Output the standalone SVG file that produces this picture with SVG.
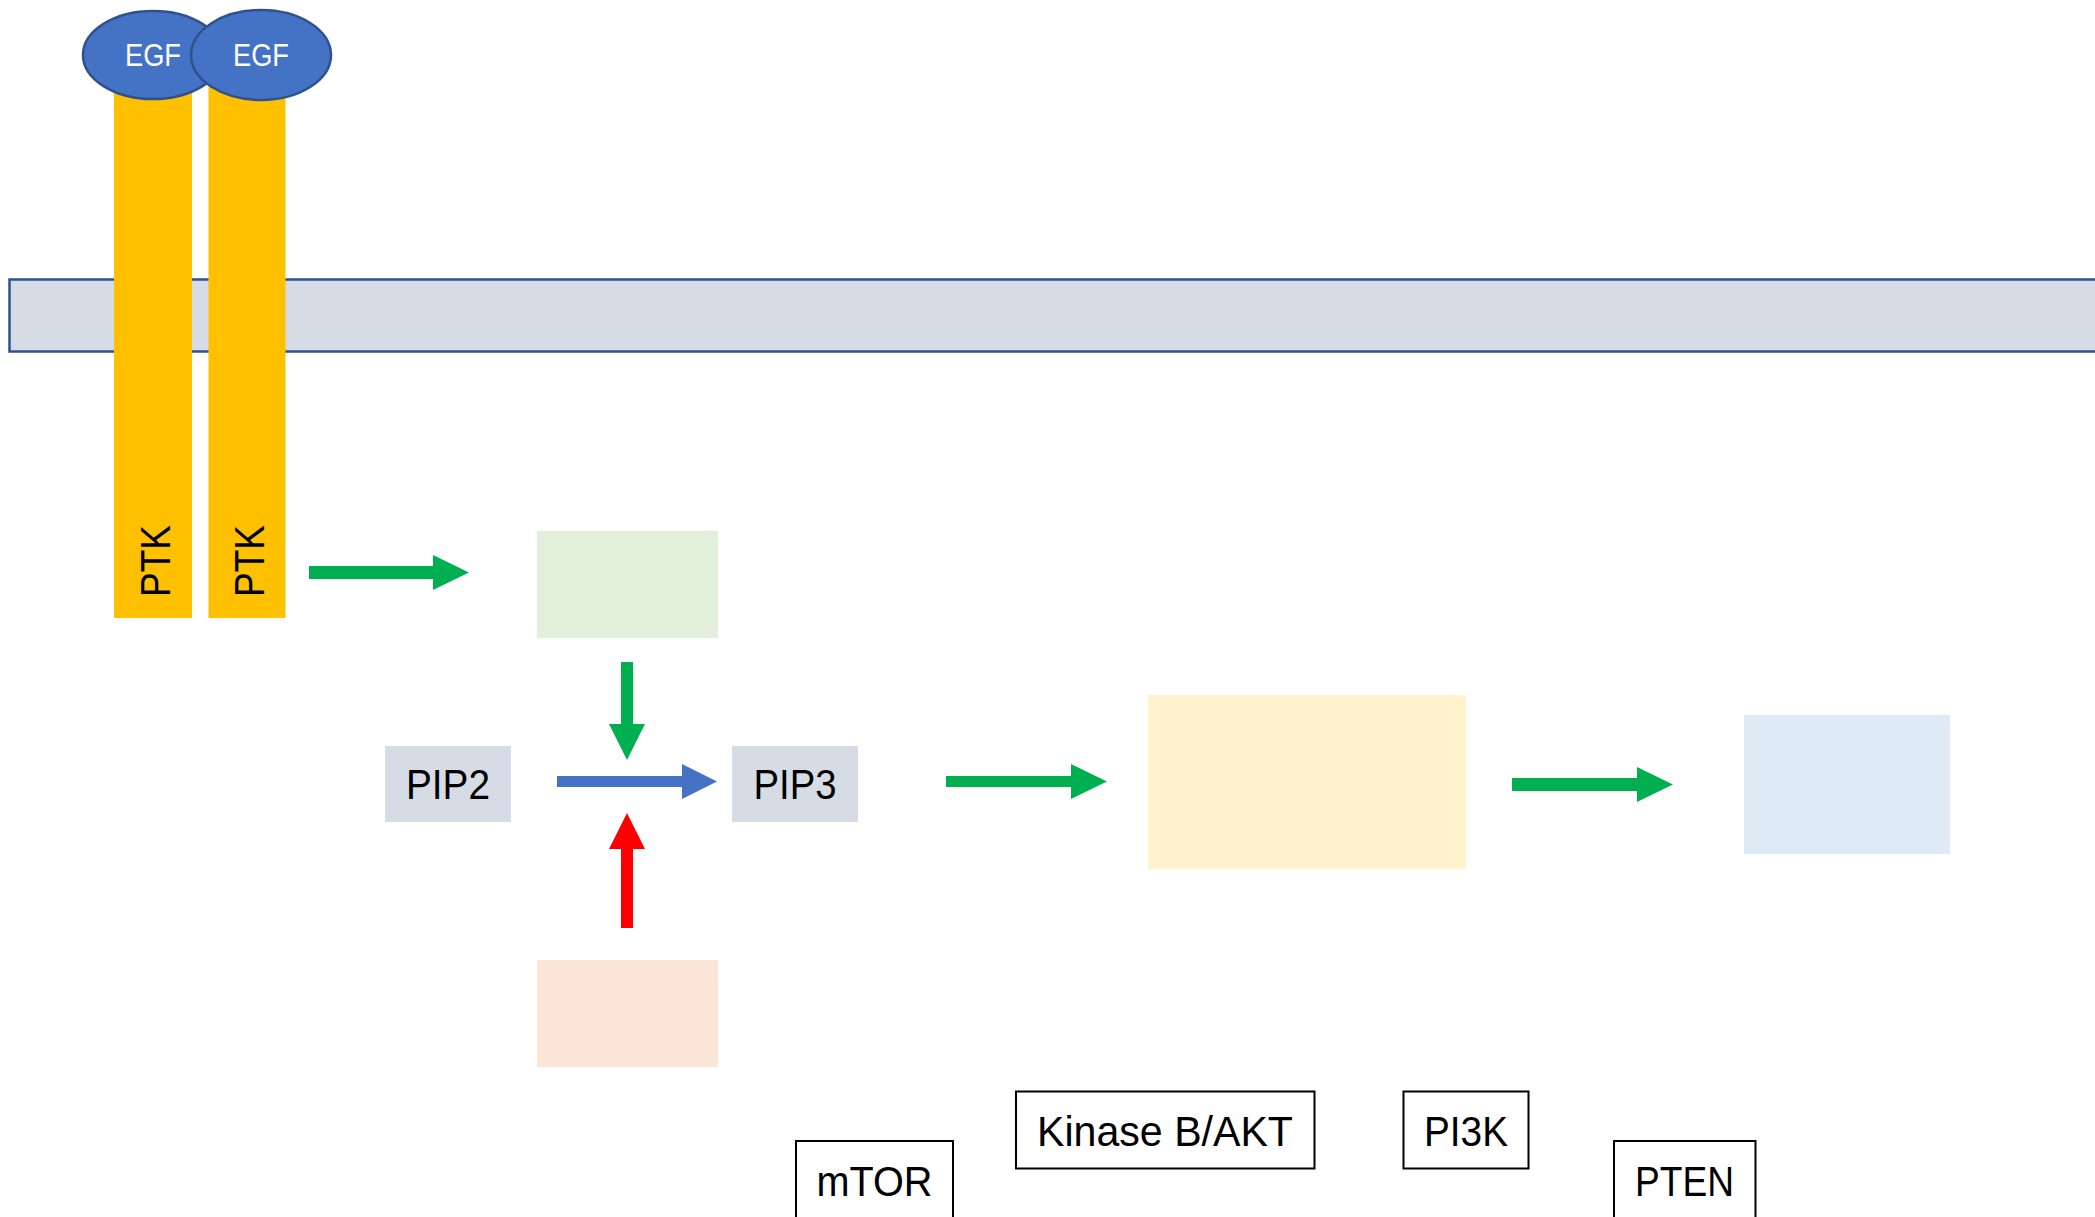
<svg xmlns="http://www.w3.org/2000/svg" width="2095" height="1217" viewBox="0 0 2095 1217">
<style>
.t{font-family:"Liberation Sans",Arial,sans-serif;font-size:43px;fill:#000;text-anchor:middle}
.egf{font-family:"Liberation Sans",Arial,sans-serif;font-size:31px;fill:#fff;text-anchor:middle}
.bar{fill:#FFC000}
.ell{fill:#4472C4;stroke:#2F528F;stroke-width:2.5}
.lbl{fill:#fff;stroke:#000;stroke-width:2}
.pip{fill:#D6DCE5}
.green{fill:#00B050}
</style>
<rect width="2095" height="1217" fill="#fff"/>
<g id="membrane">
<rect x="9.5" y="279.5" width="2110" height="72" fill="#D6DCE5" stroke="#2F528F" stroke-width="2.5"/>
</g>
<g id="receptor-left">
<rect class="bar" x="114" y="80" width="78" height="538"/>
<ellipse class="ell" cx="153" cy="55" rx="70" ry="44"/>
<text class="egf" x="153" y="66" textLength="56" lengthAdjust="spacingAndGlyphs">EGF</text>
<text class="t" transform="translate(170,561) rotate(-90)" x="0" y="0" textLength="72" lengthAdjust="spacingAndGlyphs">PTK</text>
</g>
<g id="receptor-right">
<rect class="bar" x="208.5" y="85" width="77" height="533"/>
<ellipse class="ell" cx="261" cy="55" rx="70" ry="45"/>
<text class="egf" x="261" y="66" textLength="56" lengthAdjust="spacingAndGlyphs">EGF</text>
<text class="t" transform="translate(264,561) rotate(-90)" x="0" y="0" textLength="72" lengthAdjust="spacingAndGlyphs">PTK</text>
</g>
<g id="box-green"><rect x="537" y="531" width="181" height="107" fill="#E2EFDA"/></g>
<g id="box-peach"><rect x="537" y="960" width="181" height="107" fill="#FBE5D6"/></g>
<g id="box-yellow"><rect x="1148" y="695" width="318" height="174" fill="#FFF2CC"/></g>
<g id="box-blue"><rect x="1744" y="715" width="206" height="139" fill="#DEEBF7"/></g>
<g id="pip2">
<rect class="pip" x="385" y="746" width="126" height="76"/>
<text class="t" x="448" y="799" textLength="84" lengthAdjust="spacingAndGlyphs">PIP2</text>
</g>
<g id="pip3">
<rect class="pip" x="732" y="746" width="126" height="76"/>
<text class="t" x="795" y="799" textLength="83" lengthAdjust="spacingAndGlyphs">PIP3</text>
</g>
<g id="connectors">
<polygon class="green" points="309,566 433,566 433,555 469,572.5 433,590 433,579 309,579"/>
<polygon class="green" points="621,662 633,662 633,724 645,724 627,760 609,724 621,724"/>
<polygon fill="#4472C4" points="557,776 682,776 682,764 717,781.5 682,799 682,787 557,787"/>
<polygon fill="#FF0000" points="621,928 633,928 633,849 645,849 627,813 609,849 621,849"/>
<polygon class="green" points="946,776 1071,776 1071,764 1107,781.5 1071,799 1071,787 946,787"/>
<polygon class="green" points="1512,778 1637,778 1637,767 1673,784.5 1637,802 1637,791 1512,791"/>
</g>
<g id="mtor">
<rect class="lbl" x="796" y="1141" width="157" height="78"/>
<text class="t" x="874.5" y="1196" textLength="116" lengthAdjust="spacingAndGlyphs">mTOR</text>
</g>
<g id="akt">
<rect class="lbl" x="1016" y="1091.5" width="298.5" height="77"/>
<text class="t" x="1165" y="1146" textLength="256" lengthAdjust="spacingAndGlyphs">Kinase B/AKT</text>
</g>
<g id="pi3k">
<rect class="lbl" x="1403.5" y="1091.5" width="125" height="77"/>
<text class="t" x="1466" y="1146" textLength="84" lengthAdjust="spacingAndGlyphs">PI3K</text>
</g>
<g id="pten">
<rect class="lbl" x="1614" y="1141" width="141.5" height="78"/>
<text class="t" x="1684.5" y="1196" textLength="99" lengthAdjust="spacingAndGlyphs">PTEN</text>
</g>
</svg>
